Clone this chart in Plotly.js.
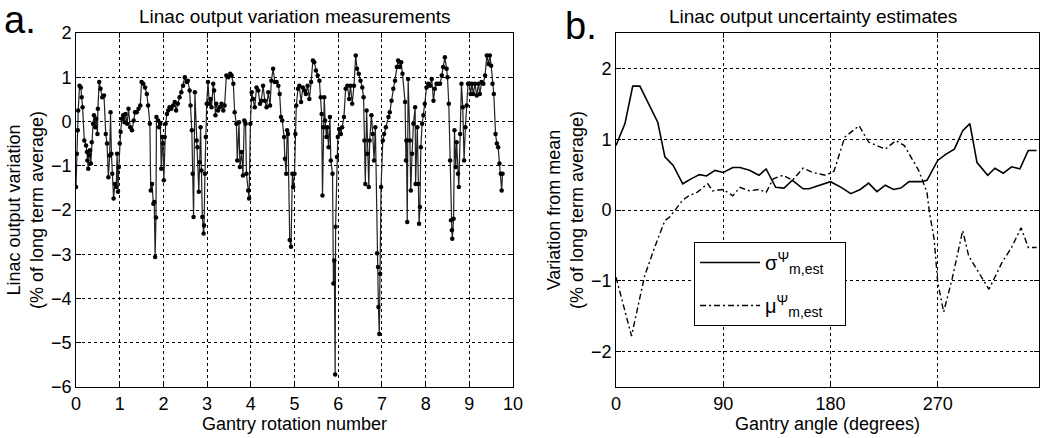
<!DOCTYPE html>
<html>
<head>
<meta charset="utf-8">
<script src="https://cdn.plot.ly/plotly-3.0.1.min.js"></script>
<style>
  html, body { margin: 0; padding: 0; background: #fff; }
  #vis { width: 1050px; height: 438px; }
</style>
</head>
<body>
<div id="vis"></div>
<script>
// panel a: gantry rotation number vs output variation (% of long term average)
const rotation = [
  0.00,0.02,0.04,0.05,0.08,0.11,0.13,0.15,0.19,0.23,0.25,0.26,0.28,0.30,0.32,0.34,0.36,0.39,0.41,0.44,
  0.46,0.49,0.50,0.53,0.56,0.60,0.64,0.68,0.71,0.74,0.77,0.79,0.81,0.83,0.86,0.89,0.92,0.94,0.96,0.98,
  1.00,1.02,1.05,1.08,1.11,1.13,1.17,1.20,1.24,1.28,1.32,1.35,1.39,1.43,1.47,1.50,1.54,1.58,1.62,1.65,
  1.69,1.71,1.74,1.77,1.79,1.81,1.83,1.84,1.88,1.90,1.93,1.95,1.98,1.99,2.01,2.03,2.05,2.08,2.11,2.14,
  2.18,2.22,2.26,2.29,2.33,
  2.37,2.41,2.45,2.49,2.53,2.56,2.60,2.62,2.65,2.67,2.69,2.72,2.76,2.78,2.81,2.83,2.85,2.87,2.89,2.92,
  2.93,2.95,2.97,2.99,3.02,3.05,3.08,3.10,3.14,3.16,3.19,3.21,3.25,3.29,3.33,3.37,3.40,3.44,3.48,3.53,
  3.56,3.60,3.63,3.67,3.69,3.73,3.75,3.79,3.82,3.85,3.88,3.90,3.94,3.96,3.99,4.02,4.05,4.09,4.13,4.17,
  4.21,4.24,4.28,4.32,4.36,4.40,4.44,4.47,4.51,4.55,4.59,4.63,4.66,4.69,4.72,
  4.76,4.78,4.81,4.83,4.85,4.89,4.92,4.95,4.97,5.00,5.02,5.04,5.08,5.11,5.15,5.19,5.23,5.26,5.30,5.34,
  5.38,5.42,5.45,5.49,5.53,5.57,5.60,5.62,5.64,5.66,5.68,5.70,5.73,5.75,5.78,5.81,5.83,5.87,5.89,5.91,
  5.93,5.94,5.97,5.99,6.02,6.06,6.09,6.13,6.17,6.21,6.25,6.28,6.32,6.36,6.40,6.43,6.47,6.51,6.55,6.58,
  6.60,6.62,6.65,6.67,6.70,6.72,6.76,6.79,6.82,6.85,6.89,6.91,6.92,6.94,6.96,6.98,7.02,7.05,7.09,
  7.15,7.18,7.22,7.26,7.30,7.34,7.37,7.41,7.44,7.47,7.53,7.55,7.56,7.58,7.60,7.64,7.66,7.69,7.72,7.76,
  7.77,7.81,7.83,7.85,7.87,7.89,7.92,7.95,7.98,8.02,8.06,8.10,8.14,8.18,8.21,8.25,8.29,8.33,8.37,8.40,
  8.44,8.48,8.50,8.53,8.56,8.58,8.60,8.61,8.64,8.66,8.69,8.71,8.74,8.76,8.79,8.82,8.85,8.88,8.91,8.94,
  8.97,9.00,9.03,9.06,9.09,9.13,9.17,9.21,9.24,9.28,9.32,9.36,9.40,9.44,9.47,9.50,9.53,9.56,9.60,9.63,
  9.66,9.69,9.72,9.74,9.76
];
const outputVariation = [
  -1.48,-0.73,-0.20,0.25,0.81,0.77,0.55,0.32,-0.43,-0.54,-0.69,-0.88,-1.07,-0.77,-0.65,-0.95,-0.47,-0.05,0.14,-0.13,
  0.06,-0.28,0.29,0.89,0.74,0.55,0.59,-0.28,-0.50,-1.26,-0.77,0.21,-0.73,-1.18,-1.74,-1.41,-1.48,-0.73,-1.59,-1.03,
  -0.50,-0.24,0.06,0.14,-0.02,0.17,-0.05,0.29,-0.13,-0.20,0.02,0.21,0.21,0.29,0.36,0.89,0.85,0.77,0.62,0.36,
  -0.05,-1.56,-1.41,-1.86,-1.82,-3.06,-2.17,0.10,0.02,-0.13,-0.05,-1.07,-0.35,-0.50,-1.33,-0.35,-0.05,0.17,0.25,0.32,
  0.29,0.36,0.44,0.25,0.40,
  0.55,0.66,0.81,1.00,0.89,0.92,0.70,0.36,-0.20,-1.18,-2.16,0.66,-0.43,-0.58,-1.59,-0.92,-0.13,-1.11,-2.16,-2.53,
  -2.35,-1.18,-0.35,0.40,0.89,0.40,0.51,0.32,0.85,0.70,0.14,0.40,0.25,0.32,0.40,0.25,0.36,1.04,1.00,1.08,
  1.04,0.85,0.21,-0.05,-0.88,-0.02,-1.03,-0.69,-1.22,0.02,-0.05,-1.18,-1.56,-1.74,-0.05,0.66,0.51,0.32,0.77,0.70,
  0.40,0.47,0.81,0.47,0.32,0.66,0.36,0.92,1.19,0.89,0.89,0.81,0.62,0.10,0.02,
  -0.35,-0.84,-1.18,-0.20,-0.28,-2.68,-2.83,-1.18,-1.48,-1.18,-0.28,0.36,0.74,0.81,0.44,0.77,0.70,0.62,0.81,0.51,
  0.89,1.38,1.34,1.15,1.04,0.92,0.55,0.17,-1.67,-0.13,0.55,0.02,-0.35,-0.13,-0.58,0.10,-0.88,-1.18,-3.66,-3.14,
  -5.72,-2.38,-0.80,-0.35,-0.17,-0.28,-0.13,0.10,0.74,0.81,0.51,0.81,0.40,0.81,1.49,1.19,1.08,0.92,0.77,0.55,
  -0.43,-1.41,0.25,-0.73,-1.48,-0.43,0.14,-0.28,-0.88,-0.13,-2.98,-3.29,-4.19,-4.80,-3.44,-1.48,-0.43,-0.28,-0.13,
  0.10,0.21,0.47,0.74,0.92,1.23,1.38,1.23,1.34,1.08,0.44,-0.88,-0.43,-2.27,0.96,-0.43,-1.56,-0.73,-0.05,0.32,
  -1.41,-0.13,-1.41,-2.31,-1.93,-0.58,-0.05,0.14,0.40,0.77,0.85,0.81,0.96,0.47,0.74,0.85,0.85,0.85,1.04,1.23,
  1.45,1.19,1.00,0.40,-0.88,-2.23,-2.46,-2.65,-2.20,-0.20,-1.03,-0.47,-1.18,-1.48,-0.28,0.85,0.32,-0.88,-0.13,0.36,
  0.85,0.85,0.62,0.85,0.62,0.85,0.59,0.85,0.62,0.89,0.85,1.04,1.49,1.30,1.49,1.26,0.85,0.62,-0.28,-0.50,
  -0.58,-0.95,-1.18,-1.56,-1.18
];

// panel b: uncertainty estimates vs gantry angle (degrees)
const sigmaAngle = [0,7.5,14,20,35,41,48,56,63,70,76,83,90,98,104,112,120,126,134,141,
  148,157,162,171,180,189,197,205,212,219,226,233,239,246,256,261,270,277,284,291,
  297,303,312,318,325,332,339,346,353];
const sigmaValue = [0.91,1.22,1.75,1.75,1.24,0.75,0.63,0.37,0.44,0.50,0.48,0.56,0.53,0.60,0.60,0.56,0.49,0.58,0.32,0.31,
  0.42,0.30,0.30,0.35,0.40,0.32,0.23,0.29,0.38,0.26,0.35,0.29,0.31,0.40,0.40,0.42,0.70,0.79,0.86,1.12,
  1.22,0.67,0.49,0.59,0.52,0.61,0.58,0.84,0.84];
const muAngle = [0,13,24,33,41,45,56,61,68,77,81,90,98,104,112,120,126,132,140,148,
  157,165,176,183,192,204,212,226,235,242,254,261,263,267,270,275,282,291,296,313,
  324,332,340,346,353];
const muValue = [-0.95,-1.78,-0.93,-0.50,-0.15,-0.10,0.14,0.20,0.25,0.37,0.27,0.29,0.20,0.32,0.27,0.29,0.25,0.44,0.49,0.42,
  0.59,0.53,0.49,0.55,1.03,1.19,0.96,0.86,0.98,0.91,0.56,0.25,-0.03,-0.41,-1.02,-1.44,-0.98,-0.29,-0.65,-1.12,
  -0.74,-0.53,-0.25,-0.53,-0.53];

const FONT = 'Liberation Sans, Arial, sans-serif';

const traceA = {
  x: rotation,
  y: outputVariation,
  type: 'scatter',
  mode: 'lines+markers',
  line: { color: '#222', width: 1.2 },
  marker: { size: 4.5, color: '#000' },
  showlegend: false,
  xaxis: 'x', yaxis: 'y'
};

const traceSigma = {
  x: sigmaAngle,
  y: sigmaValue,
  type: 'scatter',
  mode: 'lines',
  name: 'σ<sup>Ψ</sup><sub>m,est</sub>&nbsp;&nbsp;&nbsp;',
  legendgroup: 'sigma',
  line: { color: '#000', width: 1.6 },
  xaxis: 'x2', yaxis: 'y2'
};

const traceMu = {
  x: muAngle,
  y: muValue,
  type: 'scatter',
  mode: 'lines',
  name: 'μ<sup>Ψ</sup><sub>m,est</sub>&nbsp;&nbsp;&nbsp;',
  legendgroup: 'mu',
  line: { color: '#000', width: 1.4, dash: '6px,3px,2px,3px' },
  xaxis: 'x2', yaxis: 'y2'
};

// shared axis look (matlab style: boxed, dotted grid, inner ticks)
function axisStyle(extra) {
  return Object.assign({
    showline: true, linecolor: '#000', linewidth: 1, mirror: 'ticks',
    ticks: 'inside', ticklen: 5, tickcolor: '#000',
    showgrid: true, gridcolor: '#000', gridwidth: 1, griddash: '3px,3px',
    zeroline: false,
    tickfont: { family: FONT, size: 18, color: '#000' }
  }, extra);
}

const layout = {
  width: 1050, height: 438,
  margin: { l: 0, r: 0, t: 0, b: 0 },
  paper_bgcolor: '#fff', plot_bgcolor: '#fff',
  font: { family: FONT, color: '#000' },
  xaxis: axisStyle({
    domain: [0.0724, 0.4886], range: [0, 10], dtick: 1, anchor: 'y',
    title: { text: 'Gantry rotation number', font: { size: 18 }, standoff: 0 }
  }),
  yaxis: axisStyle({
    domain: [0.1164, 0.9247], range: [-6, 2], dtick: 1, anchor: 'x',
    title: { text: 'Linac output variation<br>(% of long term average)', font: { size: 18 }, standoff: 2 }
  }),
  xaxis2: axisStyle({
    domain: [0.5867, 0.9895], range: [0, 355], tickvals: [0, 90, 180, 270], anchor: 'y2',
    title: { text: 'Gantry angle (degrees)', font: { size: 18 }, standoff: 0 }
  }),
  yaxis2: axisStyle({
    domain: [0.1164, 0.9247], range: [-2.5, 2.5], tickvals: [-2, -1, 0, 1, 2], anchor: 'x2',
    title: { text: 'Variation from mean<br>(% of long term average)', font: { size: 18 }, standoff: 2 }
  }),
  legend: {
    x: 0.661, y: 0.4475, xanchor: 'left', yanchor: 'top',
    bgcolor: '#fff', bordercolor: '#000', borderwidth: 1,
    font: { family: FONT, size: 20, color: '#000' },
    itemwidth: 60, tracegroupgap: 14
  },
  annotations: [
    { text: 'Linac output variation measurements', xref: 'paper', yref: 'paper',
      x: 0.281, y: 0.963, xanchor: 'center', yanchor: 'middle', showarrow: false,
      font: { family: FONT, size: 19 } },
    { text: 'Linac output uncertainty estimates', xref: 'paper', yref: 'paper',
      x: 0.774, y: 0.963, xanchor: 'center', yanchor: 'middle', showarrow: false,
      font: { family: FONT, size: 19 } },
    { text: 'a.', xref: 'paper', yref: 'paper', x: 0.002, y: 0.955,
      xanchor: 'left', yanchor: 'middle', showarrow: false,
      font: { family: FONT, size: 38 } },
    { text: 'b.', xref: 'paper', yref: 'paper', x: 0.536, y: 0.94,
      xanchor: 'left', yanchor: 'middle', showarrow: false,
      font: { family: FONT, size: 38 } }
  ]
};

Plotly.newPlot('vis', [traceA, traceSigma, traceMu], layout, { staticPlot: true });
</script>
</body>
</html>
